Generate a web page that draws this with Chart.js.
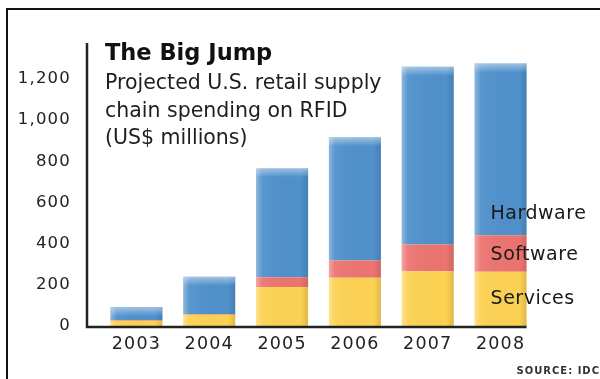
<!DOCTYPE html>
<html>
<head>
<meta charset="utf-8">
<script src="https://cdn.jsdelivr.net/npm/chart.js@4"></script>
<style>
  body { margin: 0; background: #fff; }
  #wrap { width: 600px; height: 379px; }
</style>
</head>
<body>
<div id="wrap"><canvas id="rfid_chart" width="600" height="379"></canvas></div>
<script>
// data (US$ millions)
const years    = ["2003", "2004", "2005", "2006", "2007", "2008"];
const services = [25, 55, 189, 234, 266, 263];
const software = [4, 3, 48, 84, 130, 178];
const hardware = [63, 181, 530, 599, 863, 834];
const series_names = ["Services", "Software", "Hardware"];
const y_ticks  = [0, 200, 400, 600, 800, 1000, 1200];

const FONT = "'DejaVu Sans', sans-serif";

// frame, axis lines, title text
const deco_plugin = {
    id: "deco",
    beforeDraw(chart) {
        const ctx = chart.ctx;
        ctx.save();
        ctx.fillStyle = "#fff";
        ctx.fillRect(0, 0, chart.width, chart.height);
        ctx.strokeStyle = "#111";
        ctx.lineWidth = 2;
        ctx.beginPath();
        ctx.moveTo(7, chart.height);
        ctx.lineTo(7, 9);
        ctx.lineTo(chart.width, 9);
        ctx.stroke();
        ctx.restore();
        // wider tick lettering, like the original typeface
        ctx.letterSpacing = "1.2px";
    },
    afterDatasetsDraw(chart) {
        const ctx = chart.ctx;
        const area = chart.chartArea;
        const y0 = chart.scales.y.getPixelForValue(0);
        const last = chart.getDatasetMeta(0).data[years.length - 1];
        ctx.save();
        ctx.letterSpacing = "0px";

        // glossy edges on every bar
        for (let d = 0; d < chart.data.datasets.length; d++) {
            for (let bar of chart.getDatasetMeta(d).data) {
                const l = bar.x - bar.width / 2, r = bar.x + bar.width / 2;
                const top = Math.min(bar.y, bar.base), h = Math.abs(bar.base - bar.y);
                const g = ctx.createLinearGradient(l, 0, r, 0);
                g.addColorStop(0, "rgba(255,255,255,0.35)");
                g.addColorStop(0.12, "rgba(255,255,255,0.05)");
                g.addColorStop(0.85, "rgba(0,0,0,0)");
                g.addColorStop(1, "rgba(0,0,0,0.12)");
                ctx.fillStyle = g;
                ctx.fillRect(l, top, r - l, h);
                if (d === chart.data.datasets.length - 1) {
                    const gt = ctx.createLinearGradient(0, top, 0, top + 9);
                    gt.addColorStop(0, "rgba(255,255,255,0.45)");
                    gt.addColorStop(1, "rgba(255,255,255,0)");
                    ctx.fillStyle = gt;
                    ctx.fillRect(l, top, r - l, Math.min(9, h));
                }
            }
        }

        // axis lines
        ctx.strokeStyle = "#222";
        ctx.lineWidth = 2.5;
        ctx.beginPath();
        ctx.moveTo(87, area.top);
        ctx.lineTo(87, y0 + 1);
        ctx.lineTo(last.x + last.width / 2, y0 + 1);
        ctx.stroke();

        // titles
        ctx.fillStyle = "#111";
        ctx.textBaseline = "middle";
        ctx.textAlign = "left";
        ctx.font = "bold 22.5px " + FONT;
        ctx.fillText("The Big Jump", 105, 54);
        ctx.fillStyle = "#1e1e1e";
        ctx.font = "20.5px " + FONT;
        ctx.fillText("Projected U.S. retail supply", 105, 84);
        ctx.fillText("chain spending on RFID", 105, 111.5);
        ctx.fillText("(US$ millions)", 105, 139);

        // series names next to the 2008 bar
        ctx.font = "19px " + FONT;
        ctx.letterSpacing = "0.5px";
        ctx.fillStyle = "#1a1a1a";
        for (let d = 0; d < chart.data.datasets.length; d++) {
            const el = chart.getDatasetMeta(d).data[years.length - 1];
            const tx = el.x - el.width / 2 + 16;
            const ty = d === 2 ? el.base - 21 : (el.y + el.base) / 2 + (d === 1 ? 2 : 0);
            ctx.fillText(chart.data.datasets[d].label, tx, ty);
        }

        // source
        ctx.font = "bold 10px " + FONT;
        ctx.fillStyle = "#333";
        ctx.textAlign = "right";
        ctx.letterSpacing = "1px";
        ctx.fillText("SOURCE: IDC", 600, 371);
        ctx.restore();
    }
};

const ctx = document.getElementById("rfid_chart").getContext("2d");
const rfid_chart = new Chart(ctx, {
    type: "bar",
    data: {
        labels: years,
        datasets: [
            { label: series_names[0], data: services, backgroundColor: "rgb(252,210,82)" },
            { label: series_names[1], data: software, backgroundColor: "rgb(236,116,112)" },
            { label: series_names[2], data: hardware, backgroundColor: "rgb(80,145,204)" }
        ]
    },
    options: {
        responsive: false,
        animation: false,
        layout: { padding: { top: 43, right: 63, left: 0, bottom: 0 } },
        datasets: { bar: { categoryPercentage: 1, barPercentage: 0.714, borderWidth: 0 } },
        scales: {
            x: {
                stacked: true,
                grid: { display: false, drawTicks: false },
                border: { display: false },
                ticks: { color: "#222", font: { family: FONT, size: 17.5 }, padding: 8 },
                afterFit: (s) => { s.height = 379 - 43 - 283; }
            },
            y: {
                stacked: true,
                min: 0,
                max: 1375,
                grid: { display: false, drawTicks: false },
                border: { display: false },
                afterBuildTicks: (s) => { s.ticks = y_ticks.map(v => ({ value: v })); },
                ticks: {
                    color: "#222",
                    font: { family: FONT, size: 16.5 },
                    padding: 29,
                    callback: (v) => v.toLocaleString("en-US")
                },
                afterFit: (s) => { s.width = 100; }
            }
        },
        plugins: {
            legend: { display: false },
            tooltip: { enabled: false }
        }
    },
    plugins: [deco_plugin]
});
</script>
</body>
</html>
